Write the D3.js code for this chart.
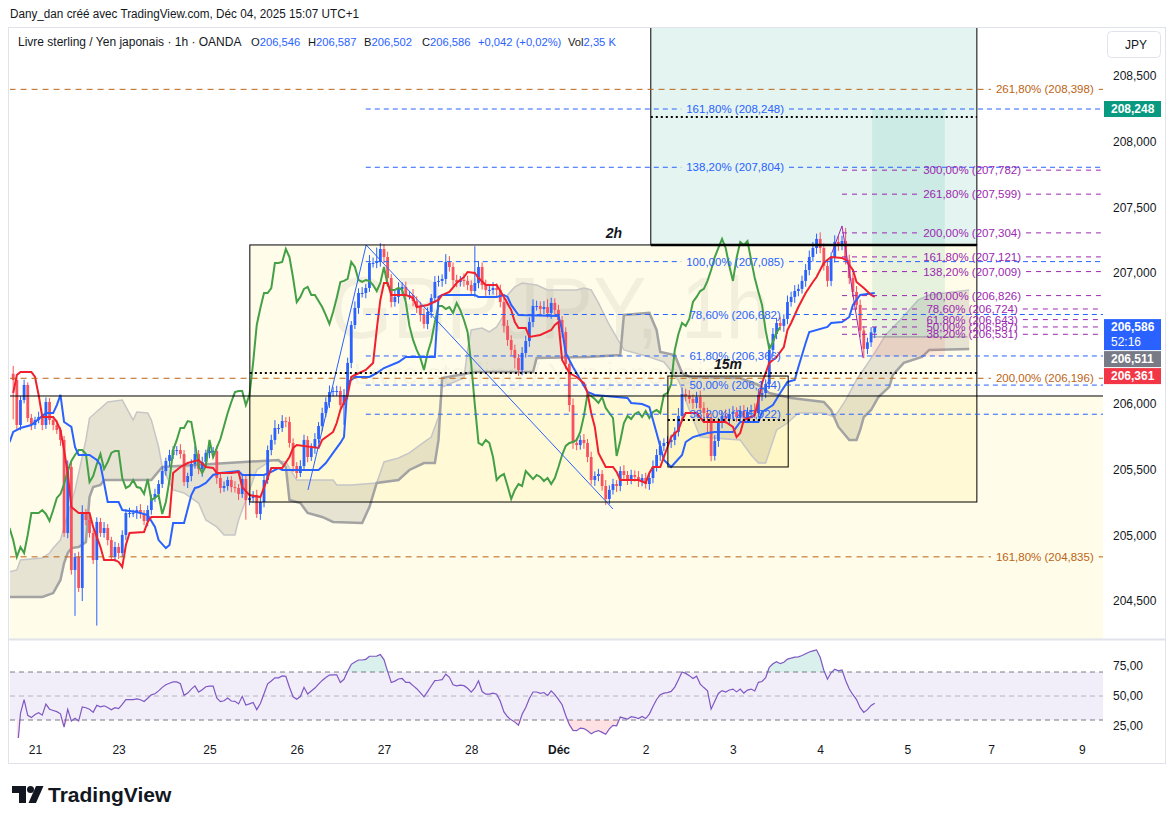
<!DOCTYPE html>
<html>
<head>
<meta charset="utf-8">
<script src="https://cdn.jsdelivr.net/npm/d3@7"></script>
<style>
  body { margin: 0; background: #fff; }
  svg { display: block; font-family: "Liberation Sans", Arial, sans-serif; }
</style>
</head>
<body>
<div id="chart"></div>
<script>
const width = 1175;
const height = 824;

/*
 * GBPJPY 1h, OANDA, bars from Nov 20 18:00 to Dec 4 15:00 (UTC+1)
 * closes, wicks in 0.001 JPY
 */
const firstOpen = 206.230;
const closes = [
  206.183, 205.840, 206.030, 206.145, 205.893, 205.840, 205.878, 205.901, 205.840, 206.015,
  205.878, 205.840, 205.802, 205.726, 205.017, 205.520, 204.735, 204.834, 204.598, 205.169,
  205.116, 205.017, 204.811, 205.101, 205.017, 205.055, 204.963, 204.834, 204.910, 204.864,
  205.002, 205.169, 205.169, 205.169, 205.192, 205.162, 205.108, 205.192, 205.284, 205.314,
  205.390, 205.489, 205.566, 205.611, 205.649, 205.649, 205.619, 205.405, 205.451, 205.543,
  205.619, 205.505, 205.558, 205.627, 205.642, 205.642, 205.436, 205.360, 205.375, 205.421,
  205.367, 205.360, 205.314, 205.428, 205.268, 205.284, 205.306, 205.162, 205.253, 205.421,
  205.649, 205.726, 205.817, 205.817, 205.870, 205.863, 205.703, 205.527, 205.474, 205.527,
  205.726, 205.596, 205.665, 205.733, 205.832, 205.931, 206.015, 206.091, 206.099, 206.099,
  205.992, 206.069, 206.313, 206.602, 206.732, 206.846, 206.846, 206.884, 207.075, 207.075,
  207.082, 207.181, 207.120, 206.960, 206.777, 206.816, 206.877, 206.892, 206.831, 206.831,
  206.785, 206.739, 206.678, 206.610, 206.701, 206.808, 206.930, 206.938, 206.953, 207.082,
  207.044, 206.945, 206.930, 206.945, 206.938, 206.907, 206.861, 206.922, 207.044, 206.907,
  206.869, 206.869, 206.884, 206.869, 206.777, 206.595, 206.488, 206.412, 206.351, 206.259,
  206.389, 206.480, 206.625, 206.747, 206.747, 206.724, 206.739, 206.694, 206.770, 206.716,
  206.640, 206.549, 206.305, 205.992, 205.703, 205.687, 205.726, 205.703, 205.596, 205.421,
  205.451, 205.466, 205.375, 205.276, 205.345, 205.390, 205.375, 205.489, 205.459, 205.428,
  205.459, 205.444, 205.413, 205.436, 205.390, 205.436, 205.520, 205.611, 205.680, 205.703,
  205.710, 205.726, 205.787, 205.909, 206.076, 206.061, 206.038, 206.008, 206.053, 205.970,
  205.931, 205.893, 205.604, 205.718, 205.855, 205.909, 205.886, 205.924, 205.939, 205.901,
  205.947, 205.893, 205.939, 205.954, 205.931, 206.069, 206.084, 206.152, 206.412, 206.534,
  206.617, 206.595, 206.648, 206.777, 206.816, 206.861, 206.877, 206.938, 207.021, 207.120,
  207.189, 207.258, 207.189, 207.052, 206.938, 207.113, 207.235, 207.212, 207.242, 207.098,
  206.960, 206.854, 206.755, 206.560, 206.420, 206.470, 206.546, 206.586
];
const wickUp = [
  60, 20, 30, 40, 20, 30, 25, 40, 20, 35,   30, 25, 40, 20, 30, 50, 40, 30, 40, 60,
  30, 40, 25, 35, 30, 45, 30, 25, 40, 30,   35, 30, 40, 25, 30, 45, 30, 35, 25, 40,
  30, 35, 25, 40, 30, 30, 45, 30, 25, 35,   60, 30, 40, 25, 35, 30, 40, 30, 35, 25,
  30, 45, 30, 40, 25, 35, 30, 40, 50, 30,   35, 40, 60, 30, 45, 30, 40, 35, 30, 45,
  40, 30, 35, 45, 30, 40, 35, 50, 30, 40,   35, 45, 40, 30, 50, 35, 45, 30, 60, 40,
  110, 45, 35, 40, 30, 45, 50, 35, 40, 30,  45, 35, 40, 50, 35, 30, 45, 40, 35, 60,
  45, 35, 40, 30, 50, 40, 35, 280, 45, 35,  40, 30, 45, 35, 40, 30, 45, 35, 40, 30,
  45, 40, 35, 50, 40, 35, 45, 60, 40, 35,   40, 30, 35, 45, 50, 40, 35, 45, 30, 40,
  35, 40, 30, 45, 35, 40, 30, 35, 45, 30,   40, 35, 45, 30, 40, 35, 50, 45, 40, 35,
  45, 40, 35, 60, 50, 40, 45, 35, 40, 50,   45, 40, 35, 45, 40, 35, 50, 40, 45, 35,
  40, 45, 35, 40, 50, 45, 40, 35, 50, 45,   40, 45, 35, 50, 40, 45, 35, 40, 45, 50,
  45, 40, 50, 35, 45, 40, 50, 45, 40, 100,  40, 35, 45, 40, 30, 35, 40, 1
];
const wickDn = [
  300, 30, 40, 25, 30, 40, 30, 25, 40, 30,  35, 40, 30, 45, 30, 40, 35, 350, 30, 100,
  40, 35, 30, 500, 30, 35, 40, 30, 35, 45,  30, 40, 35, 30, 45, 35, 30, 40, 35, 30,
  40, 30, 35, 45, 30, 40, 35, 30, 45, 40,   35, 40, 60, 30, 40, 35, 45, 40, 30, 35,
  40, 35, 45, 30, 150, 40, 35, 30, 45, 40,  30, 40, 35, 45, 30, 40, 35, 45, 40, 30,
  35, 40, 30, 45, 35, 40, 30, 45, 35, 40,   45, 150, 35, 40, 30, 45, 35, 40, 30, 35,
  40, 35, 45, 60, 40, 35, 50, 45, 40, 35,   40, 45, 50, 35, 40, 45, 40, 35, 45, 40,
  35, 45, 40, 35, 45, 40, 35, 45, 40, 35,   45, 40, 35, 45, 40, 50, 45, 40, 80, 45,
  40, 35, 45, 40, 35, 45, 40, 35, 45, 40,   35, 45, 40, 50, 45, 40, 35, 45, 40, 35,
  45, 40, 35, 45, 40, 35, 45, 40, 35, 45,   40, 35, 45, 40, 35, 45, 40, 35, 45, 40,
  35, 45, 40, 35, 45, 40, 35, 45, 40, 35,   45, 120, 40, 35, 45, 40, 35, 45, 40, 35,
  45, 40, 35, 45, 40, 35, 45, 40, 35, 45,   40, 35, 45, 40, 35, 45, 40, 35, 45, 40,
  35, 45, 40, 35, 45, 40, 35, 45, 40, 35,   45, 40, 35, 50, 70, 40, 35, 44
];

// time axis: label and bar index where the day starts
const tickLabels = ["21", "23", "25", "26", "27", "28", "Déc", "2", "3", "4", "5", "7", "9"];
const tickBars = [6, 29, 54, 78, 102, 126, 150, 174, 198, 222, 246, 269, 294];
const priceTicks = [204.5, 205, 205.5, 206, 207, 207.5, 208, 208.5];
const rsiTicks = [25, 50, 75];

// legend: label, value, left position
const legendKeys = ["O", "H", "B", "C", "", "Vol"];
const legendValues = ["206,546", "206,587", "206,502", "206,586", "+0,042 (+0,02%)", "2,35 K"];
const legendX = [251, 308, 364, 422, 478, 568];

// Ichimoku lines: [bar, price]
const tenkan = [
  [0,206.084],[1,206.221],[2,206.244],[5,206.244],[6,206.206],[7,206.069],[8,205.901],[11,205.901],
  [12,205.863],[13,205.802],[14,205.649],[15,205.474],[16,205.215],[18,205.169],[21,205.169],[22,205.063],
  [24,204.910],[25,204.811],[28,204.811],[29,204.796],[30,204.758],[31,204.925],[32,205.017],[36,205.025],
  [37,205.101],[38,205.139],[43,205.139],[44,205.474],[46,205.520],[48,205.550],[51,205.573],[53,205.520],
  [55,205.512],[56,205.474],[60,205.474],[62,205.482],[63,205.367],[65,205.306],[68,205.291],[71,205.512],
  [74,205.512],[76,205.596],[77,205.665],[78,205.687],[84,205.665],[85,205.726],[88,205.787],[89,205.855],
  [90,205.954],[92,206.069],[93,206.206],[94,206.221],[97,206.259],[99,206.313],[100,206.564],[101,206.793],
  [102,206.922],[103,206.922],[104,206.831],[108,206.831],[110,206.808],[111,206.739],[114,206.755],[117,206.793],
  [118,206.831],[120,206.854],[122,206.922],[124,206.968],[125,207.006],[127,206.998],[128,206.960],[130,206.907],
  [133,206.907],[135,206.816],[137,206.716],[138,206.625],[139,206.579],[141,206.579],[142,206.511],[145,206.526],
  [148,206.564],[149,206.602],[150,206.625],[151,206.335],[153,206.236],[155,206.206],[157,206.160],[158,206.084],
  [159,205.931],[160,205.825],[161,205.627],[163,205.520],[165,205.520],[166,205.482],[167,205.421],[172,205.421],
  [174,205.398],[175,205.474],[176,205.520],[178,205.520],[180,205.672],[181,205.748],[183,205.802],[184,205.878],
  [185,205.931],[188,205.931],[190,205.863],[196,205.863],[198,205.825],[199,205.748],[200,205.779],[201,205.878],
  [203,205.901],[204,205.916],[205,206.030],[206,206.160],[207,206.236],[208,206.313],[210,206.358],[212,206.434],
  [213,206.564],[214,206.617],[216,206.739],[218,206.846],[220,206.930],[221,206.968],[223,207.075],[225,207.120],
  [228,207.113],[229,207.098],[231,207.021],[232,206.930],[234,206.884],[236,206.831],[237,206.816]
];
const kijun = [
  [-1,205.710],[0,205.787],[2,205.817],[5,205.840],[9,205.931],[11,205.931],[12,205.992],[13,206.069],
  [14,205.863],[16,205.825],[17,205.672],[18,205.611],[21,205.611],[23,205.573],[24,205.535],[25,205.398],
  [26,205.253],[29,205.253],[30,205.192],[34,205.177],[37,205.154],[39,205.063],[40,204.963],[42,204.902],
  [43,204.925],[44,205.093],[47,205.093],[49,205.306],[50,205.360],[51,205.367],[53,205.398],[55,205.459],
  [57,205.474],[62,205.489],[63,205.459],[69,205.459],[71,205.482],[73,205.512],[74,205.497],[84,205.497],
  [86,205.550],[88,205.627],[90,205.703],[91,205.748],[92,206.160],[94,206.206],[98,206.206],[100,206.236],
  [102,206.274],[106,206.320],[108,206.358],[116,206.358],[117,206.816],[118,206.831],[127,206.831],[128,206.816],
  [133,206.816],[135,206.831],[136,206.816],[137,206.755],[139,206.678],[150,206.671],[151,206.564],[152,206.389],
  [154,206.282],[158,206.091],[160,206.069],[169,206.046],[170,206.008],[173,206.000],[175,205.977],[176,205.878],
  [177,205.779],[179,205.573],[181,205.520],[182,205.550],[184,205.611],[185,205.710],[187,205.748],[189,205.764],
  [191,205.779],[193,205.787],[198,205.787],[200,205.863],[205,205.863],[206,205.939],[209,205.992],[211,206.084],
  [213,206.168],[215,206.183],[216,206.282],[218,206.465],[219,206.549],[224,206.587],[225,206.617],[228,206.625],
  [230,206.663],[231,206.755],[233,206.831],[237,206.846]
];
const spanA = [
  [-1,204.720],[1,204.735],[2,204.811],[8,204.826],[10,204.864],[11,204.902],[13,204.963],[14,205.063],
  [17,205.345],[20,205.726],[21,205.893],[26,206.015],[30,206.030],[33,205.878],[34,205.939],[37,205.931],
  [38,205.878],[40,205.672],[41,205.520],[44,205.345],[47,205.322],[51,205.245],[53,205.116],[56,205.063],
  [58,205.002],[61,205.002],[62,205.116],[65,205.345],[67,205.497],[71,205.573],[75,205.558],[78,205.421],
  [88,205.421],[89,205.383],[93,205.383],[100,205.398],[102,205.558],[106,205.588],[109,205.627],[113,205.710],
  [115,205.748],[117,205.901],[118,206.130],[124,206.198],[125,206.412],[126,206.564],[129,206.579],[131,206.549],
  [133,206.587],[135,206.678],[136,206.831],[138,206.892],[140,206.922],[144,206.907],[147,206.869],[155,206.869],
  [157,206.884],[159,206.869],[161,206.770],[164,206.602],[168,206.412],[175,206.358],[179,206.320],[183,206.183],
  [186,205.954],[189,205.748],[200,205.726],[203,205.611],[205,205.550],[207,205.550],[210,205.802],[213,205.855],
  [216,205.931],[223,205.931],[226,205.901],[229,206.030],[232,206.183],[237,206.389],[240,206.526],[244,206.640],
  [249,206.793],[252,206.831],[263,206.869]
];
const spanB = [
  [-1,204.529],[8,204.529],[11,204.559],[13,204.659],[14,204.788],[15,204.864],[16,204.902],[18,204.910],
  [20,204.948],[21,205.291],[22,205.367],[24,205.383],[25,205.421],[38,205.421],[41,205.520],[73,205.573],
  [75,205.520],[76,205.268],[79,205.245],[81,205.169],[85,205.139],[88,205.101],[96,205.093],[98,205.215],
  [100,205.398],[106,205.421],[109,205.497],[113,205.550],[116,205.550],[117,205.726],[118,206.198],[127,206.244],
  [143,206.244],[144,206.351],[158,206.358],[167,206.373],[168,206.678],[175,206.694],[177,206.564],[178,206.396],
  [182,206.373],[184,206.236],[186,206.206],[200,206.198],[205,206.145],[208,206.084],[214,206.046],[223,206.015],
  [225,205.954],[227,205.825],[230,205.726],[232,205.726],[233,205.802],[234,205.901],[236,205.954],[238,206.053],
  [241,206.130],[242,206.221],[245,206.313],[250,206.358],[252,206.412],[263,206.419]
];

// fibonacci drawings
const blueFibLevels = ["38,20%", "50,00%", "61,80%", "78,60%", "100,00%", "138,20%", "161,80%"];
const blueFibPrices = [205.922, 206.144, 206.366, 206.682, 207.085, 207.804, 208.248];
const purpleFibLevels = ["38,20%", "50,00%", "61,80%", "78,60%", "100,00%", "138,20%", "161,80%", "200,00%", "261,80%", "300,00%"];
const purpleFibPrices = [206.531, 206.587, 206.643, 206.724, 206.826, 207.009, 207.121, 207.304, 207.599, 207.782];
const orangeFibLevels = ["161,80%", "200,00%", "261,80%"];
const orangeFibPrices = [204.835, 206.196, 208.398];

const fmt = v => d3.format(".3f")(v).replace(".", ",");

const x = d3.scaleLinear().domain([-0.88, 299.8]).range([10, 1103]);
const y = d3.scaleLinear().domain([204.209, 208.873]).range([639, 27]);
const yR = d3.scaleLinear().domain([15, 96.7]).range([738, 640]);

const svg = d3.select("#chart").append("svg")
  .attr("width", width)
  .attr("height", height);

svg.append("text").attr("x", 10).attr("y", 18)
  .attr("font-size", 12).attr("fill", "#131722")
  .attr("textLength", 349).attr("lengthAdjust", "spacingAndGlyphs")
  .text("Dany_dan créé avec TradingView.com, Déc 04, 2025 15:07 UTC+1");

// frame
svg.append("rect").attr("x", 8.5).attr("y", 27.5).attr("width", 1157).attr("height", 736)
  .attr("fill", "#fff").attr("stroke", "#e0e3eb");

const defs = svg.append("defs");
defs.append("clipPath").attr("id", "pane").append("rect")
  .attr("x", 10).attr("y", 28).attr("width", 1093).attr("height", 611);
defs.append("clipPath").attr("id", "rpane").append("rect")
  .attr("x", 10).attr("y", 641).attr("width", 1093).attr("height", 97);

const pane = svg.append("g").attr("clip-path", "url(#pane)");
const yellow = "rgba(255, 238, 110, 0.15)";

// lower zone
pane.append("rect").attr("x", x(-1)).attr("y", y(206.061))
  .attr("width", 1103 - x(-1)).attr("height", 639 - y(206.061)).attr("fill", yellow);
// 2h box
pane.append("rect").attr("x", x(65.1)).attr("y", y(207.212))
  .attr("width", x(265.1) - x(65.1)).attr("height", y(205.253) - y(207.212)).attr("fill", yellow);
// target zone above
pane.append("rect").attr("x", x(175.4)).attr("y", y(209.5))
  .attr("width", x(265.1) - x(175.4)).attr("height", y(207.212) - y(209.5))
  .attr("fill", "rgba(8, 153, 129, 0.11)");
// 15m box
pane.append("rect").attr("x", x(180.1)).attr("y", y(206.213))
  .attr("width", x(213.2) - x(180.1)).attr("height", y(205.520) - y(206.213))
  .attr("fill", yellow);

// watermark
pane.append("text").attr("x", 550).attr("y", 338)
  .attr("text-anchor", "middle").attr("font-size", 88)
  .attr("textLength", 440).attr("lengthAdjust", "spacingAndGlyphs")
  .attr("fill", "#000").attr("fill-opacity", 0.05)
  .text("GBPJPY, 1h");
pane.append("text").attr("x", 536).attr("y", 384)
  .attr("text-anchor", "middle").attr("font-size", 30)
  .attr("fill", "#000").attr("fill-opacity", 0.05)
  .text("Livre sterling / Yen japonais");

// cloud
const pt = d => [x(d[0]), y(d[1])];
pane.append("path")
  .attr("d", "M" + spanA.map(pt).join("L") + "L" + spanB.slice().reverse().map(pt).join("L") + "Z")
  .attr("fill", "rgba(140, 140, 128, 0.22)");
const line = d3.line().x(d => x(d[0])).y(d => y(d[1]));
pane.append("path").attr("d", line(spanA)).attr("fill", "none")
  .attr("stroke", "#c6c6c6").attr("stroke-width", 1.5);
pane.append("path").attr("d", line(spanB)).attr("fill", "none")
  .attr("stroke", "#a3a3a3").attr("stroke-width", 2.5);

// long position tool
pane.append("rect").attr("x", x(236.3)).attr("y", y(208.248))
  .attr("width", x(256.3) - x(236.3)).attr("height", y(206.511) - y(208.248))
  .attr("fill", "rgba(8, 153, 129, 0.1)");
pane.append("rect").attr("x", x(236.3)).attr("y", y(206.511))
  .attr("width", x(256.3) - x(236.3)).attr("height", y(206.361) - y(206.511))
  .attr("fill", "rgba(242, 54, 69, 0.1)");
pane.append("line").attr("x1", x(236.3)).attr("x2", x(262.5))
  .attr("y1", y(206.511)).attr("y2", y(206.511))
  .attr("stroke", "#8a8d96").attr("stroke-width", 1);

// candles
const bars = closes.map((c, i) => {
  const o = i === 0 ? firstOpen : closes[i - 1];
  return { i, o, c, h: Math.max(o, c) + wickUp[i] / 1000, l: Math.min(o, c) - wickDn[i] / 1000 };
});
const up = "#2962ff", down = "#f7525f";
const candle = pane.append("g").selectAll("g").data(bars).join("g")
  .attr("fill", d => d.c >= d.o ? up : down)
  .attr("stroke", d => d.c >= d.o ? up : down);
candle.append("line")
  .attr("x1", d => x(d.i)).attr("x2", d => x(d.i))
  .attr("y1", d => y(d.h)).attr("y2", d => y(d.l)).attr("stroke-width", 1);
candle.append("rect")
  .attr("x", d => x(d.i) - 1.4).attr("width", 2.8)
  .attr("y", d => y(Math.max(d.o, d.c)))
  .attr("height", d => Math.max(1, Math.abs(y(d.o) - y(d.c))))
  .attr("stroke", "none");

// chikou: close shifted back 26 bars
const chikou = closes.map((c, i) => [i - 26, c]).filter(d => d[0] >= -1);
pane.append("path").attr("d", line(chikou)).attr("fill", "none")
  .attr("stroke", "#43a047").attr("stroke-width", 2);
pane.append("path").attr("d", line(kijun)).attr("fill", "none")
  .attr("stroke", "#2962ff").attr("stroke-width", 2);
pane.append("path").attr("d", line(tenkan)).attr("fill", "none")
  .attr("stroke", "#f0202e").attr("stroke-width", 2);

// trend lines
pane.append("path").attr("d", line([[81.1, 205.345], [97.1, 207.212], [165, 205.2]]))
  .attr("fill", "none").attr("stroke", "#2962ff").attr("stroke-width", 1);
pane.append("path").attr("d", line([[225.2, 207.151], [228, 207.357], [233.8, 206.351]]))
  .attr("fill", "none").attr("stroke", "#9c27b0").attr("stroke-width", 1);

// dotted levels
const dotted = [[206.236, 65.1, 265.1], [208.188, 175.4, 265.1], [205.878, 180.1, 213.2]];
pane.selectAll(".dot").data(dotted).join("line")
  .attr("x1", d => x(d[1])).attr("x2", d => x(d[2]))
  .attr("y1", d => y(d[0])).attr("y2", d => y(d[0]))
  .attr("stroke", "#000").attr("stroke-width", 2).attr("stroke-dasharray", "2,3");

// box borders
const border = pane.append("g").attr("fill", "none").attr("stroke", "#000");
border.append("line").attr("x1", x(-1)).attr("x2", 1103)
  .attr("y1", y(206.061)).attr("y2", y(206.061)).attr("stroke-width", 1);
border.append("rect").attr("x", x(65.1)).attr("y", y(207.212))
  .attr("width", x(265.1) - x(65.1)).attr("height", y(205.253) - y(207.212));
border.append("rect").attr("x", x(180.1)).attr("y", y(206.213))
  .attr("width", x(213.2) - x(180.1)).attr("height", y(205.520) - y(206.213));
border.append("line").attr("x1", x(175.4)).attr("x2", x(175.4)).attr("y1", 20).attr("y2", y(207.212));
border.append("line").attr("x1", x(265.1)).attr("x2", x(265.1)).attr("y1", 20).attr("y2", y(207.212));
border.append("line").attr("x1", x(175.4)).attr("x2", x(265.1))
  .attr("y1", y(207.212)).attr("y2", y(207.212)).attr("stroke-width", 2.5);

// fib levels with centred labels
function fib(levels, prices, from, to, centre, color, dash) {
  const g = pane.append("g");
  levels.forEach((lvl, k) => {
    const yy = y(prices[k]);
    const t = g.append("text").attr("x", x(centre)).attr("y", yy).attr("dy", "0.35em")
      .attr("text-anchor", "middle").attr("font-size", 11.5).attr("fill", color)
      .text(`${lvl} (${fmt(prices[k])})`);
    const w = t.node().getComputedTextLength();
    const segs = [[x(from), x(centre) - w / 2 - 5], [x(centre) + w / 2 + 5, x(to)]];
    segs.filter(s => s[1] - s[0] > 3).forEach(s => {
      g.insert("line", "text").attr("x1", s[0]).attr("x2", s[1]).attr("y1", yy).attr("y2", yy)
        .attr("stroke", color).attr("stroke-width", 1).attr("stroke-dasharray", dash);
    });
  });
}
fib(orangeFibLevels, orangeFibPrices, -1, 299.8, 283.8, "#bb6415", "6,5");
fib(blueFibLevels, blueFibPrices, 97, 299.8, 198.6, "#2962ff", "5,4");
fib(purpleFibLevels, purpleFibPrices, 228, 299.2, 263.8, "#9c27b0", "5,5");

pane.append("text").attr("x", 614).attr("y", 238).attr("text-anchor", "middle")
  .attr("font-size", 14).attr("font-weight", "bold").attr("font-style", "italic")
  .attr("fill", "#131722").text("2h");
pane.append("text").attr("x", 728).attr("y", 369).attr("text-anchor", "middle")
  .attr("font-size", 14).attr("font-weight", "bold").attr("font-style", "italic")
  .attr("fill", "#131722").text("15m");

// legend
svg.append("text").attr("x", 18).attr("y", 46).attr("font-size", 12).attr("fill", "#131722")
  .text("Livre sterling / Yen japonais · 1h · OANDA");
legendKeys.forEach((key, k) => {
  const t = svg.append("text").attr("x", legendX[k]).attr("y", 46).attr("font-size", 11.2).attr("fill", "#131722");
  t.append("tspan").text(key);
  t.append("tspan").attr("fill", "#2962ff").text(legendValues[k]);
});

// price axis
const yAxis = svg.append("g").attr("transform", "translate(1108,0)")
  .call(d3.axisRight(y).tickValues(priceTicks).tickSize(0).tickFormat(fmt));
yAxis.select(".domain").remove();
yAxis.selectAll("text").attr("font-size", 12).attr("fill", "#131722")
  .attr("font-family", "Liberation Sans, Arial, sans-serif").attr("x", 5);

svg.append("rect").attr("x", 1107.5).attr("y", 31.5).attr("width", 53).attr("height", 26).attr("rx", 4)
  .attr("fill", "#fff").attr("stroke", "#e0e3eb");
svg.append("text").attr("x", 1125).attr("y", 49).attr("font-size", 12).attr("fill", "#131722").text("JPY");

const marks = [
  { price: 208.248, color: "#089981", text: "208,248" },
  { price: 206.586, color: "#2962ff", text: "206,586", sub: "52:16" },
  { price: 206.511, color: "#787b86", text: "206,511" },
  { price: 206.361, color: "#f23645", text: "206,361" }
];
let prevBottom = 0;
marks.forEach(m => {
  const h = m.sub ? 31 : 16;
  const top = Math.max(y(m.price) - 8, prevBottom + 1);
  prevBottom = top + h;
  svg.append("rect").attr("x", 1104).attr("y", top).attr("width", 57).attr("height", h).attr("fill", m.color);
  svg.append("text").attr("x", 1111).attr("y", top + 12).attr("font-size", 12)
    .attr("font-weight", "bold").attr("fill", "#fff").text(m.text);
  if (m.sub) svg.append("text").attr("x", 1111).attr("y", top + 27).attr("font-size", 12)
    .attr("fill", "#fff").text(m.sub);
});

// pane separator
svg.append("line").attr("x1", 8).attr("x2", 1166).attr("y1", 639.5).attr("y2", 639.5)
  .attr("stroke", "#e0e3eb").attr("stroke-width", 2);

// RSI (14) from the closes
const rsi = [];
let avgG = 0, avgL = 0;
closes.forEach((c, i) => {
  if (i === 0) return;
  const ch = c - closes[i - 1];
  const n = Math.min(i, 14);
  avgG = (avgG * (n - 1) + Math.max(ch, 0)) / n;
  avgL = (avgL * (n - 1) + Math.max(-ch, 0)) / n;
  rsi.push([i, avgL === 0 ? 100 : 100 - 100 / (1 + avgG / avgL)]);
});

const rp = svg.append("g").attr("clip-path", "url(#rpane)");
rp.append("rect").attr("x", 10).attr("y", yR(70)).attr("width", 1093).attr("height", yR(30) - yR(70))
  .attr("fill", "rgba(126, 87, 194, 0.1)");
[[70, 1], [50, 0.5], [30, 1]].forEach(([v, op]) => {
  rp.append("line").attr("x1", 10).attr("x2", 1103).attr("y1", yR(v)).attr("y2", yR(v))
    .attr("stroke", "#787b86").attr("stroke-opacity", op).attr("stroke-dasharray", "5,4");
});
rp.append("path")
  .attr("d", d3.area().x(d => x(d[0])).y0(yR(70)).y1(d => yR(Math.max(d[1], 70)))(rsi))
  .attr("fill", "rgba(8, 153, 129, 0.15)");
rp.append("path")
  .attr("d", d3.area().x(d => x(d[0])).y0(yR(30)).y1(d => yR(Math.min(d[1], 30)))(rsi))
  .attr("fill", "rgba(242, 54, 69, 0.15)");
rp.append("path")
  .attr("d", d3.line().x(d => x(d[0])).y(d => yR(d[1]))(rsi))
  .attr("fill", "none").attr("stroke", "#7e57c2").attr("stroke-width", 1.2);

const rAxis = svg.append("g").attr("transform", "translate(1108,0)")
  .call(d3.axisRight(yR).tickValues(rsiTicks).tickSize(0).tickFormat(v => d3.format(".2f")(v).replace(".", ",")));
rAxis.select(".domain").remove();
rAxis.selectAll("text").attr("font-size", 12).attr("fill", "#131722")
  .attr("font-family", "Liberation Sans, Arial, sans-serif").attr("x", 5);

// time axis
const xAxis = svg.append("g").attr("transform", "translate(0,742)")
  .call(d3.axisBottom(x).tickValues(tickBars).tickSize(0).tickFormat((d, k) => tickLabels[k]));
xAxis.select(".domain").remove();
xAxis.selectAll("text").attr("font-size", 12).attr("fill", "#131722")
  .attr("font-family", "Liberation Sans, Arial, sans-serif")
  .attr("font-weight", (d, k) => tickLabels[k] === "Déc" ? "bold" : null);

// TradingView logo
const logo = svg.append("g").attr("fill", "#131722");
logo.append("path").attr("d", "M12,786 H26 V803 H19 V793 H12 Z");
logo.append("circle").attr("cx", 30.5).attr("cy", 789.5).attr("r", 3.5);
logo.append("path").attr("d", "M36,786 H43.5 L36,803 H28.5 Z");
svg.append("text").attr("x", 48).attr("y", 802).attr("font-size", 21).attr("font-weight", "bold")
  .attr("fill", "#131722").text("TradingView");
</script>
</body>
</html>
